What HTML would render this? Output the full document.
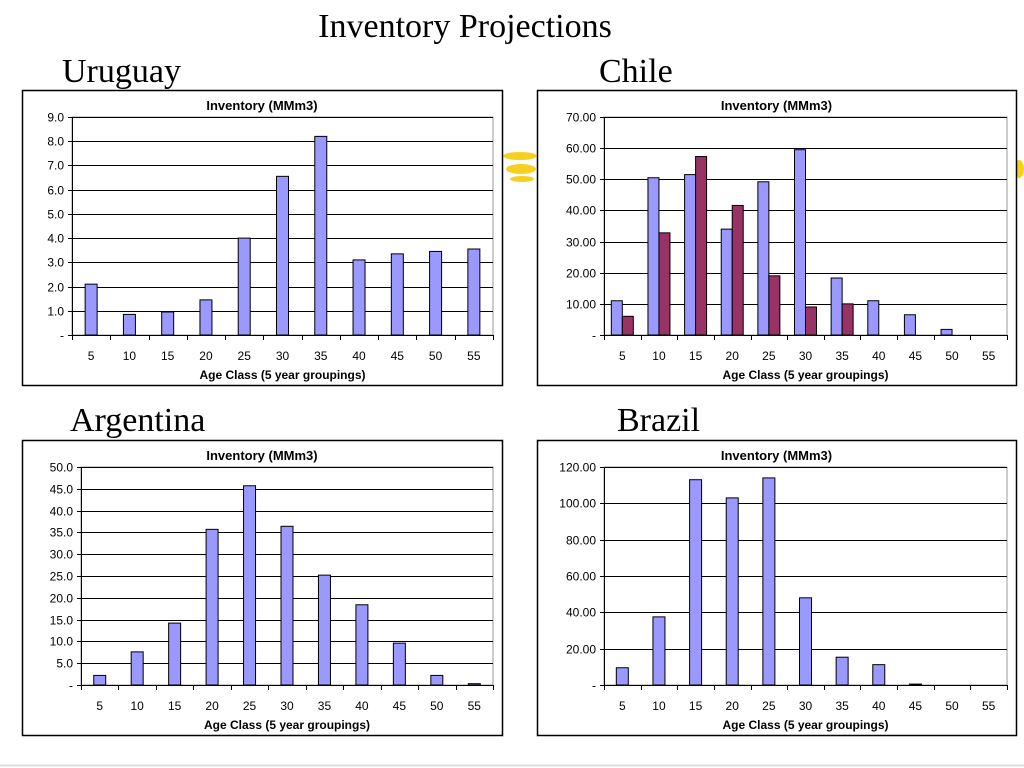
<!DOCTYPE html>
<html><head><meta charset="utf-8"><style>
body{margin:0;width:1024px;height:768px;background:#fff;position:relative;overflow:hidden;font-family:"Liberation Sans",sans-serif}
.h{position:absolute;font-family:"Liberation Serif",serif;color:#000;line-height:1}
svg{position:absolute;left:0;top:0}
</style></head><body>
<div class="h" style="left:0;width:930px;text-align:center;top:10px;font-size:34px">Inventory Projections</div>
<div class="h" style="left:62px;top:55px;font-size:34px">Uruguay</div>
<div class="h" style="left:599px;top:55px;font-size:34px">Chile</div>
<div class="h" style="left:70px;top:404px;font-size:34px">Argentina</div>
<div class="h" style="left:617px;top:404px;font-size:34px">Brazil</div>
<svg id="s" width="1024" height="768"></svg>
<script>
const categories=["5","10","15","20","25","30","35","40","45","50","55"];
const uruguayValues=[2.1,0.85,0.95,1.45,4.0,6.55,8.2,3.1,3.35,3.45,3.55];
const uruguayTicks=["-","1.0","2.0","3.0","4.0","5.0","6.0","7.0","8.0","9.0"];
const chileValuesA=[11,50.5,51.5,34,49.2,59.5,18.3,11,6.5,1.8,0];
const chileValuesB=[6,32.8,57.3,41.6,19,9,10,0,0,0,0];
const chileTicks=["-","10.00","20.00","30.00","40.00","50.00","60.00","70.00"];
const argentinaValues=[2.2,7.6,14.2,35.7,45.7,36.4,25.2,18.4,9.6,2.2,0.3];
const argentinaTicks=["-","5.0","10.0","15.0","20.0","25.0","30.0","35.0","40.0","45.0","50.0"];
const brazilValues=[9.5,37.5,113,103,114,48,15.3,11.2,0.5,0,0];
const brazilTicks=["-","20.00","40.00","60.00","80.00","100.00","120.00"];
const uruguayMax=9, chileMax=70, argentinaMax=50, brazilMax=120;

const s=document.getElementById('s');
const NS="http://www.w3.org/2000/svg";
function mk(t,a,p){const e=document.createElementNS(NS,t);for(const k in a)e.setAttribute(k,a[k]);(p||s).appendChild(e);return e;}
function chart(name,box,pl,ticks,max,series){
  const g=mk('g',{});
  
  
  const fr=mk('rect',{x:box[0]+0.5,y:box[1]+0.5,width:box[2]-box[0],height:box[3]-box[1],fill:'#fff',stroke:'#000','stroke-width':1.5},g);
  
  
  const [L,T,R,B]=pl;
  const y=v=>B-(v/max)*(B-T);
  const bw=(R-L)/categories.length;
  const x=i=>L+bw*i;
  mk('rect',{x:L,y:T,width:R-L,height:B-T,fill:'none',stroke:'#999'},g);
  ticks.forEach((t,i)=>{
    const v=max*i/(ticks.length-1), yy=Math.round(y(v))+0.5;
    if(i>0){const gl=mk('line',{x1:L,x2:R,y1:yy,y2:yy,stroke:'#000','stroke-width':1},g);
      }
    mk('line',{x1:L-4,x2:L,y1:yy,y2:yy,stroke:'#000'},g);
    const tx=mk('text',{x:L-8,y:yy+4,'font-size':12,'text-anchor':'end'},g);tx.textContent=t;
    
  });
  mk('line',{x1:L+0.5,x2:L+0.5,y1:T,y2:B,stroke:'#000'},g);
  mk('line',{x1:L,x2:R,y1:B+0.5,y2:B+0.5,stroke:'#000'},g);
  categories.forEach((c,i)=>{
    mk('line',{x1:Math.round(x(i))+0.5,x2:Math.round(x(i))+0.5,y1:B,y2:B+5,stroke:'#000'},g);
    const tx=mk('text',{x:x(i)+bw/2,y:B+25,'font-size':12,'text-anchor':'middle'},g);tx.textContent=c;
    
  });
  mk('line',{x1:R+0.5,x2:R+0.5,y1:B,y2:B+5,stroke:'#000'},g);
  const n=series.length, w=n>1?11:12;
  series.forEach((sr,k)=>{
    sr.vals.forEach((v,i)=>{
      const cx=x(i)+bw/2-(n*w)/2+k*w;
      const r=mk('rect',{x:cx,y:y(v),width:w,height:B-y(v),fill:sr.col,stroke:'#000','stroke-width':1},g);
      
      
    });
  });
  const t1=mk('text',{x:(box[0]+box[2])/2,y:box[1]+20,'font-size':13,'font-weight':'bold','text-anchor':'middle'},g);
  t1.textContent='Inventory (MMm3)';
  
  const t2=mk('text',{x:(L+R)/2,y:B+44,'font-size':12,'font-weight':'bold','text-anchor':'middle'},g);
  t2.textContent='Age Class (5 year groupings)';
  
}
[[503,152,34,8],[506,164,30,10],[510,176,24,6],[1014,160,10,18]].forEach(d=>{
  const e=mk('ellipse',{cx:d[0]+d[2]/2,cy:d[1]+d[3]/2,rx:d[2]/2,ry:d[3]/2,fill:'#f5d020'});
  
});
chart('uruguay-chart',[22,90,502,385],[72,117,493,335],uruguayTicks,uruguayMax,[{id:'uruguay',vals:uruguayValues,col:'#9999ff'}]);
chart('chile-chart',[537,90,1016,385],[604,117,1007,335],chileTicks,chileMax,[{id:'chile-a',vals:chileValuesA,col:'#9999ff'},{id:'chile-b',vals:chileValuesB,col:'#993366'}]);
chart('argentina-chart',[22,440,502,735],[81,467,493,685],argentinaTicks,argentinaMax,[{id:'argentina',vals:argentinaValues,col:'#9999ff'}]);
chart('brazil-chart',[537,440,1016,735],[604,467,1007,685],brazilTicks,brazilMax,[{id:'brazil',vals:brazilValues,col:'#9999ff'}]);
const bl=mk('line',{x1:0,x2:1024,y1:765.5,y2:765.5,stroke:'#ddd','stroke-width':2});

</script>
</body></html>
